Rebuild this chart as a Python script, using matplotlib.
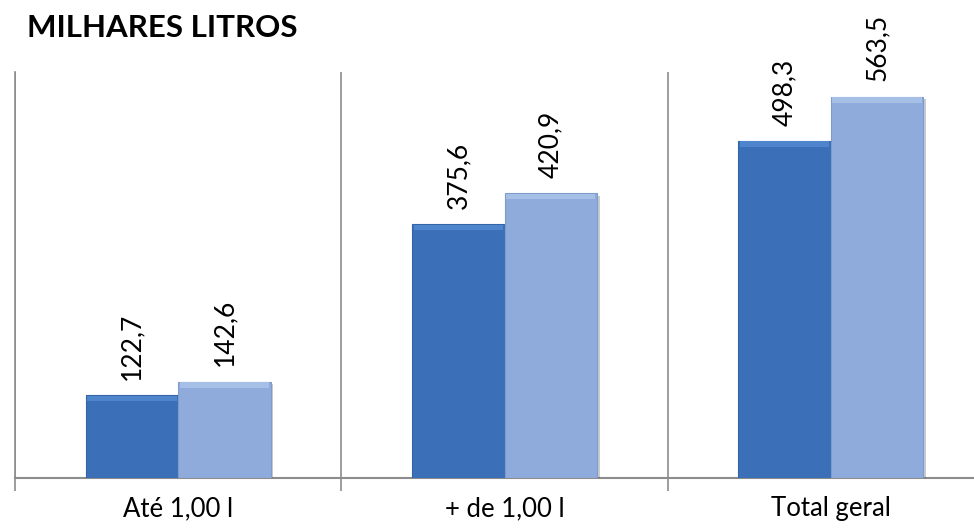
import numpy as np
import matplotlib.pyplot as plt
import matplotlib.patheffects as pe

categories = ['Até 1,00 l', '+ de 1,00 l', 'Total geral']
serie_a = [122.7, 375.6, 498.3]
serie_b = [142.6, 420.9, 563.5]
labels_a = ['122,7', '375,6', '498,3']
labels_b = ['142,6', '420,9', '563,5']

plt.rcParams['font.family'] = ['Lato', 'DejaVu Sans']

fig = plt.figure(figsize=(9.74, 5.29), dpi=100)
# the chart area runs past the right edge of the picture, as in the original
ax = fig.add_axes([15 / 974, 1 - 478 / 529, 979 / 974, 406 / 529])

x = np.arange(len(categories))
w = 0.283
dark = '#3b70b8'
light = '#8eabdb'

shadow = [pe.SimplePatchShadow(offset=(2, -2), alpha=0.25), pe.Normal()]
bars_a = ax.bar(x - w / 2, serie_a, w, color=dark, edgecolor='#3364a6',
                linewidth=0.8, path_effects=shadow, zorder=3)
bars_b = ax.bar(x + w / 2, serie_b, w, color=light, edgecolor='#7f9bcb',
                linewidth=0.8, path_effects=shadow, zorder=3)

# bevel highlight along the top of each bar
bev = 8
ax.bar(x - w / 2, bev, w * 0.97, bottom=np.array(serie_a) - bev - 1,
       color='#4f85cc', linewidth=0, zorder=4)
ax.bar(x + w / 2, bev, w * 0.97, bottom=np.array(serie_b) - bev - 1,
       color='#a6bfe6', linewidth=0, zorder=4)

for bars, labels in [(bars_a, labels_a), (bars_b, labels_b)]:
    for b, t in zip(bars, labels):
        ax.annotate(t, (b.get_x() + b.get_width() / 2, b.get_height()),
                    xytext=(0, 11), textcoords='offset points',
                    rotation=90, ha='center', va='bottom', fontsize=19,
                    color='black')

ax.set_xlim(-0.5, len(categories) - 0.5)
ax.set_ylim(0, 600)
ax.set_yticks([])
ax.set_xticks(x)
ax.set_xticklabels(categories, fontsize=18.5)
ax.tick_params(axis='x', which='major', length=0, pad=13)
ax.set_xticks(np.arange(len(categories) + 1) - 0.5, minor=True)
ax.tick_params(axis='x', which='minor', length=9, color='#8c8c8c', width=1.2)
ax.grid(axis='x', which='minor', color='#8c8c8c', linewidth=1.2, zorder=0)

for s in ['top', 'right']:
    ax.spines[s].set_visible(False)
ax.spines['left'].set_color('#8c8c8c')
ax.spines['left'].set_linewidth(1.2)
ax.spines['bottom'].set_color('#8c8c8c')
ax.spines['bottom'].set_linewidth(1.5)

fig.text(27 / 974, 1 - 28 / 529, 'MILHARES LITROS', fontsize=22.5,
         fontweight='bold', ha='left', va='center')

fig.savefig('out.png', dpi=100)
